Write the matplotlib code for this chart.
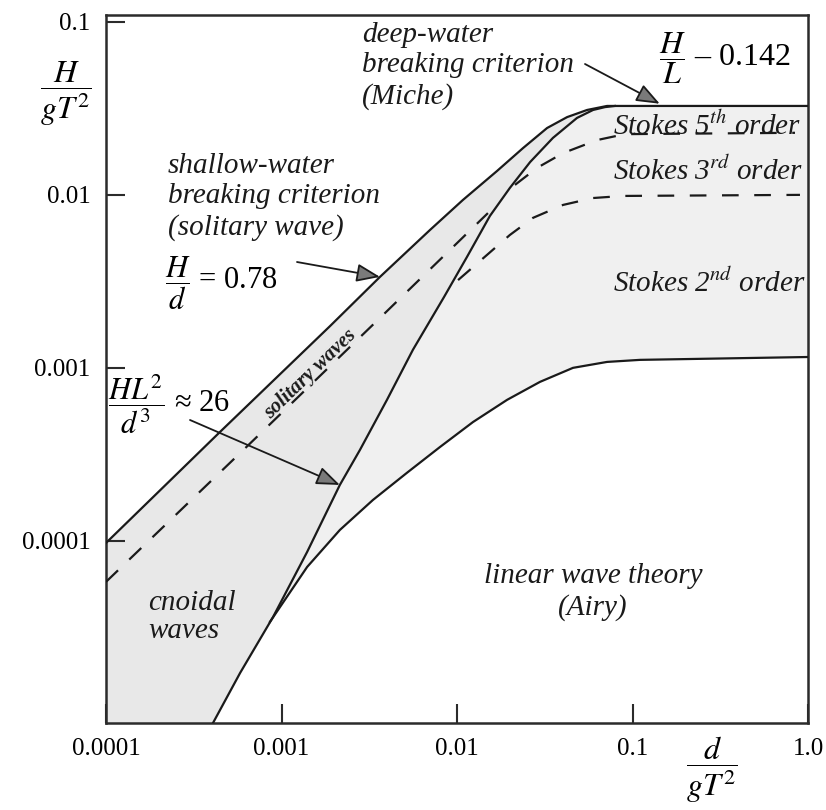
import numpy as np
import matplotlib.pyplot as plt
from matplotlib.ticker import NullLocator

plt.rcParams['font.family'] = ['Liberation Serif', 'DejaVu Serif']
plt.rcParams['mathtext.fontset'] = 'stix'

# curves (d/gT^2, H/gT^2)
# breaking limit: H/d = 0.78 in shallow water, Miche H/L = 0.142 in deep water
brk_x = [1.0e-4, 4.47e-4, 1.89e-3, 3.64e-3, 7.01e-3, 1.081e-2, 1.69e-2, 2.38e-2, 3.26e-2,
         4.24e-2, 5.51e-2, 7.16e-2, 1.0]
brk_y = [9.7e-5, 4.26e-4, 1.74e-3, 3.35e-3, 6.25e-3, 9.33e-3, 1.371e-2, 1.862e-2, 2.43e-2,
         2.81e-2, 3.09e-2, 3.26e-2, 3.26e-2]

# Ursell line HL^2/d^3 = 26
urs_x = [4.07e-4, 5.81e-4, 8.95e-4, 1.40e-3, 2.15e-3, 2.80e-3, 3.99e-3, 5.61e-3, 8.43e-3,
         1.14e-2, 1.54e-2, 2.00e-2, 2.61e-2, 3.52e-2, 4.83e-2, 5.96e-2, 6.97e-2, 7.94e-2]
urs_y = [8.83e-6, 1.72e-5, 3.62e-5, 8.61e-5, 2.10e-4, 3.35e-4, 6.52e-4, 1.27e-3, 2.56e-3,
         4.37e-3, 7.54e-3, 1.094e-2, 1.545e-2, 2.13e-2, 2.78e-2, 3.09e-2, 3.21e-2, 3.26e-2]

# linear / Stokes 2nd order limit
lin_x = [8.59e-4, 1.40e-3, 2.15e-3, 3.32e-3, 5.19e-3, 8.0e-3, 1.233e-2, 1.93e-2, 2.97e-2,
         4.58e-2, 7.16e-2, 0.1104, 1.0]
lin_y = [3.39e-5, 7.05e-5, 1.153e-4, 1.72e-4, 2.47e-4, 3.48e-4, 4.85e-4, 6.52e-4, 8.28e-4,
         9.98e-4, 1.08e-3, 1.11e-3, 1.153e-3]

# dashed limits
sol_x = [1.0e-4, 5.81e-4, 3.64e-3, 1.50e-2]
sol_y = [5.78e-5, 3.21e-4, 1.94e-3, 7.83e-3]
s3_x = [1.014e-2, 1.483e-2, 2.00e-2, 2.71e-2, 4.02e-2, 5.96e-2, 8.83e-2, 0.90]
s3_y = [3.21e-3, 4.49e-3, 5.85e-3, 7.35e-3, 8.73e-3, 9.57e-3, 9.84e-3, 9.98e-3]
s5_x = [2.14e-2, 2.86e-2, 4.02e-2, 6.28e-2, 9.06e-2, 0.843]
s5_y = [1.14e-2, 1.43e-2, 1.74e-2, 2.07e-2, 2.24e-2, 2.28e-2]

xticks = [1e-4, 1e-3, 1e-2, 1e-1, 1.0]
xlabels = ['0.0001', '0.001', '0.01', '0.1', '1.0']
yticks = [1e-4, 1e-3, 1e-2, 1e-1]
ylabels = ['0.0001', '0.001', '0.01', '0.1']

W, H = 826, 810


def fpx(x, y):
    # pixel position -> figure fraction
    return (x / W, 1 - y / H)


fig = plt.figure(figsize=(W / 100, H / 100), dpi=100)
ax = fig.add_axes([106 / W, 1 - 723 / H, 702 / W, 708 / H])
ax.set_xscale('log')
ax.set_yscale('log')
ylo, yhi = 10 ** -5.054, 10 ** -0.961
ax.set_xlim(1e-4, 1.0)
ax.set_ylim(ylo, yhi)

# shading: cnoidal / solitary region (left of Ursell line)
n = sum(np.array(brk_x) < urs_x[-1])
px_ = [brk_x[0]] + brk_x[:n] + urs_x[::-1] + [brk_x[0]]
py_ = [ylo] + brk_y[:n] + urs_y[::-1] + [ylo]
ax.fill(px_, py_, color='#e8e8e8', lw=0, zorder=1)

# shading: Stokes region
m = np.array(urs_x) > lin_x[0]
qx = [lin_x[0]] + list(np.array(urs_x)[m]) + [brk_x[-1]] + lin_x[::-1]
qy = [lin_y[0]] + list(np.array(urs_y)[m]) + [brk_y[-1]] + lin_y[::-1]
ax.fill(qx, qy, color='#f0f0f0', lw=0, zorder=1)

lc = '#1a1a1a'
ax.plot(brk_x, brk_y, color=lc, lw=1.6, zorder=3)
ax.plot(urs_x, urs_y, color=lc, lw=1.6, zorder=3)
ax.plot(lin_x, lin_y, color=lc, lw=1.6, zorder=3)
for xs, ys in [(sol_x, sol_y), (s3_x, s3_y), (s5_x, s5_y)]:
    ax.plot(xs, ys, color=lc, lw=1.6, ls=(0, (7.5, 7)), zorder=3)

ax.set_xticks(xticks)
ax.set_xticklabels(xlabels)
ax.set_yticks(yticks)
ax.set_yticklabels(ylabels)
ax.xaxis.set_minor_locator(NullLocator())
ax.yaxis.set_minor_locator(NullLocator())
ax.tick_params(direction='in', length=14, width=1.5, color='#2b2b2b', labelsize=18, pad=11)
for s in ax.spines.values():
    s.set_linewidth(1.8)
    s.set_color('#2b2b2b')

# axis labels as fractions
fig.text(*fpx(66, 94), r'$\dfrac{H}{gT^2}$', fontsize=23, ha='center', va='center')
fig.text(*fpx(712, 770), r'$\dfrac{d}{gT^2}$', fontsize=23, ha='center', va='center')

it = dict(fontsize=21, style='italic', color='#1a1a1a')
fig.text(*fpx(362, 66), 'deep-water\nbreaking criterion\n(Miche)', ha='left', va='center', linespacing=1.2, **it)
fig.text(*fpx(168, 197), 'shallow-water\nbreaking criterion\n(solitary wave)', ha='left', va='center', linespacing=1.2, **it)
fig.text(*fpx(613, 126), r'Stokes 5$^{\mathit{th}}$ order', ha='left', va='center', **it)
fig.text(*fpx(613, 171), r'Stokes 3$^{\mathit{rd}}$ order', ha='left', va='center', **it)
fig.text(*fpx(613, 283), r'Stokes 2$^{\mathit{nd}}$ order', ha='left', va='center', **it)
fig.text(*fpx(593, 592), 'linear wave theory\n(Airy)', ha='center', va='center', linespacing=1.2, **it)
fig.text(*fpx(148, 617), 'cnoidal\nwaves', ha='left', va='center', linespacing=1.15, **it)
fig.text(*fpx(310, 374), 'solitary waves', ha='center', va='center', rotation=44,
         fontsize=15, style='italic', weight='bold', color='#1a1a1a')

fig.text(*fpx(659, 58), r'$\dfrac{H}{L}$ – 0.142', fontsize=23, ha='left', va='center')
fig.text(*fpx(165, 283), r'$\dfrac{H}{d}$ = 0.78', fontsize=22, ha='left', va='center')
fig.text(*fpx(108, 404), r'$\dfrac{HL^2}{d^3}$ ≈ 26', fontsize=22, ha='left', va='center')

ap = dict(arrowstyle='-|>,head_length=0.9,head_width=0.35', fc='#7a7a7a', ec='#1a1a1a',
          lw=1.3, shrinkA=0, shrinkB=0, mutation_scale=16)
ax.annotate('', xy=(brk_x[3], brk_y[3]), xycoords='data',
            xytext=fpx(297, 262), textcoords='figure fraction', arrowprops=ap, zorder=4)
ax.annotate('', xy=(urs_x[4], urs_y[4]), xycoords='data',
            xytext=fpx(190, 420), textcoords='figure fraction', arrowprops=ap, zorder=4)
ax.annotate('', xy=(0.143, brk_y[-1] * 1.03), xycoords='data',
            xytext=fpx(585, 64), textcoords='figure fraction', arrowprops=ap, zorder=4)

fig.savefig('out.png', dpi=100)
